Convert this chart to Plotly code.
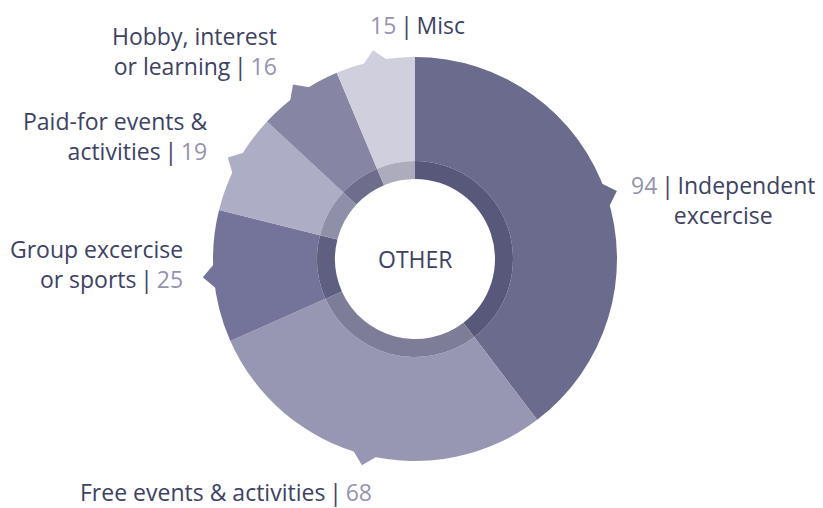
import math
import plotly.graph_objects as go

categories = ["Independent excercise", "Free events & activities", "Group excercise or sports",
              "Paid-for events & activities", "Hobby, interest or learning", "Misc"]
values = [94, 68, 25, 19, 16, 15]
label_lines = [["Independent", "excercise"], ["Free events & activities"], ["Group excercise", "or sports"],
               ["Paid-for events &", "activities"], ["Hobby, interest", "or learning"], ["Misc"]]
outer_colors = ["#6b6b8d", "#9797b3", "#74739a", "#adadc5", "#8686a4", "#cfcfdd"]
inner_colors = ["#58597a", "#7d7d98", "#5f5f81", "#908fa9", "#6e6e8c", "#acacbd"]

TEXT = "#3d4263"
NUM = "#9593b0"
FONT = "Open Sans"
FS = 23
SEP = "\u2009|\u2009"

# browser window size; the page body has an 8px default margin
WIN_W, WIN_H = 823, 508
OFF = 8
W, H = WIN_W - OFF, WIN_H - OFF
CX, CY = 415, 259          # window pixels
R_OUT, R_MID, R_IN = 202, 98, 80


def px_x(X):
    return (X - OFF) / W


def px_y(Y):
    return 1 - (Y - OFF) / H


def dom(r):
    return dict(x=[px_x(CX - r), px_x(CX + r)], y=[px_y(CY + r), px_y(CY - r)])


fig = go.Figure()
fig.add_trace(go.Pie(labels=categories, values=values, sort=False, direction="clockwise", rotation=0,
                     hole=R_MID / R_OUT, domain=dom(R_OUT), textinfo="none", hoverinfo="label+value",
                     marker=dict(colors=outer_colors, line=dict(width=0)), showlegend=False))
fig.add_trace(go.Pie(labels=categories, values=values, sort=False, direction="clockwise", rotation=0,
                     hole=R_IN / R_MID, domain=dom(R_MID), textinfo="none", hoverinfo="label+value",
                     marker=dict(colors=inner_colors, line=dict(width=0)), showlegend=False))

# notches at the middle of each slice
total = sum(values)
shapes = []
cum = 0
for v, col in zip(values, outer_colors):
    mid = (cum + v / 2) / total * 2 * math.pi
    cum += v
    ux, uy = math.sin(mid), -math.cos(mid)
    pxv, pyv = -uy, ux

    def pt(r, lat):
        X = CX + ux * r + pxv * lat
        Y = CY + uy * r + pyv * lat
        return f"{px_x(X):.5f},{px_y(Y):.5f}"

    path = f"M {pt(213, 0)} L {pt(199, 14)} L {pt(190, 0)} L {pt(199, -14)} Z"
    shapes.append(dict(type="path", xref="paper", yref="paper", path=path,
                       fillcolor=col, line=dict(width=0), layer="below"))


def num(v):
    return f"<span style='color:{NUM}'>{v}</span>"


annotations = [
    dict(x=px_x(723), y=px_y(200), xanchor="center", yanchor="middle", align="center",
         text=f"{num(values[0])}{SEP}{label_lines[0][0]}<br>{label_lines[0][1]}"),
    dict(x=px_x(226), y=px_y(492), xanchor="center", yanchor="middle", align="center",
         text=f"{label_lines[1][0]}{SEP}{num(values[1])}"),
    dict(x=px_x(184), y=px_y(264), xanchor="right", yanchor="middle", align="right",
         text=f"{label_lines[2][0]}<br>{label_lines[2][1]}{SEP}{num(values[2])}"),
    dict(x=px_x(208), y=px_y(136), xanchor="right", yanchor="middle", align="right",
         text=f"{label_lines[3][0]}<br>{label_lines[3][1]}{SEP}{num(values[3])}"),
    dict(x=px_x(278), y=px_y(51), xanchor="right", yanchor="middle", align="right",
         text=f"{label_lines[4][0]}<br>{label_lines[4][1]}{SEP}{num(values[4])}"),
    dict(x=px_x(417), y=px_y(8), xanchor="center", yanchor="top", align="center",
         text=f"{num(values[5])}{SEP}{label_lines[5][0]}"),
    dict(x=px_x(CX), y=px_y(CY), xanchor="center", yanchor="middle", text="OTHER"),
]
for a in annotations:
    a["font"] = dict(size=FS, color=TEXT, family=FONT)
    a["showarrow"] = False
    a["xref"] = "paper"
    a["yref"] = "paper"
    a["borderpad"] = 0

fig.update_layout(width=W, height=H, margin=dict(l=0, r=0, t=0, b=0),
                  paper_bgcolor="white", plot_bgcolor="white",
                  shapes=shapes, annotations=annotations)

fig.write_html("out.html")
